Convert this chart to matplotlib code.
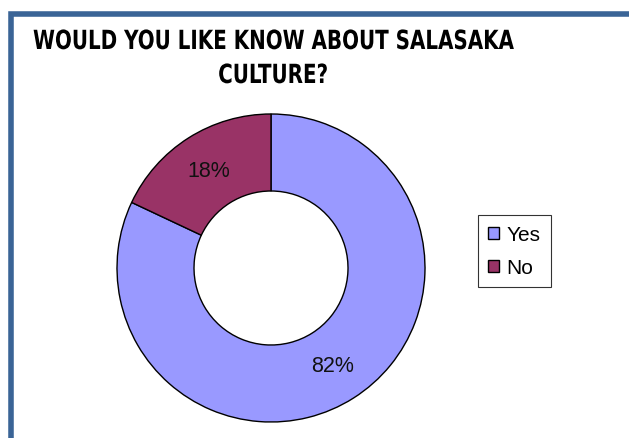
import matplotlib
matplotlib.use("Agg")
import matplotlib.pyplot as plt
from matplotlib.patches import Rectangle
from matplotlib.patheffects import AbstractPathEffect
from matplotlib.transforms import Affine2D

labels = ["Yes", "No"]
values = [82, 18]
colors = ["#9999FF", "#993366"]
title_lines = ["WOULD YOU LIKE KNOW ABOUT SALASAKA", "CULTURE?"]

W, H = 629, 439
DPI = 100


class SqueezeX(AbstractPathEffect):
    """Narrow the glyphs horizontally about a fixed display x position."""

    def __init__(self, sx, x0):
        super().__init__()
        self.sx = sx
        self.x0 = x0

    def draw_path(self, renderer, gc, tpath, affine, rgbFace=None):
        squeeze = Affine2D().translate(-self.x0, 0).scale(self.sx, 1).translate(self.x0, 0)
        renderer.draw_path(gc, tpath, affine + squeeze, rgbFace)


fig = plt.figure(figsize=(W / DPI, H / DPI), dpi=DPI)
fig.patch.set_facecolor("white")

# blue frame around the chart area (runs off the right and bottom edges)
frame = Rectangle((10.5 / W, -0.1), 1.2, (H - 14.5) / H + 0.1,
                  transform=fig.transFigure, fill=False,
                  edgecolor="#3A6496", linewidth=4.0)
fig.add_artist(frame)

# doughnut
cx, cy, r = 271, H - 269, 154
ax = fig.add_axes([(cx - r) / W, (cy - r) / H, 2 * r / W, 2 * r / H])
wedges, _, autotexts = ax.pie(
    values, colors=colors, startangle=90, counterclock=False,
    autopct=lambda p: f"{p:.0f}%", pctdistance=0.75,
    wedgeprops=dict(width=0.5, edgecolor="black", linewidth=1.0),
    textprops=dict(fontsize=15.5, family="Liberation Sans", color="#111111"),
)
ax.set_xlim(-1, 1)
ax.set_ylim(-1, 1)
ax.set_aspect("equal")
ax.axis("off")

# title in a narrow bold face, two centred lines
title_cx, title_w = 273, 480
title_font = dict(fontsize=19, fontweight="bold", family="DejaVu Sans",
                  fontstretch="condensed", ha="left", va="baseline",
                  color="black")
t1 = fig.text(0, 1 - 50 / H, title_lines[0], **title_font)
t2 = fig.text(0, 1 - 84 / H, title_lines[1], **title_font)
fig.canvas.draw()
w1 = t1.get_window_extent().width
w2 = t2.get_window_extent().width
sx = title_w / w1
for t, w in ((t1, w1), (t2, w2)):
    left = title_cx - sx * w / 2
    t.set_x(left / W)
    t.set_path_effects([SqueezeX(sx, left)])

leg = fig.legend(wedges, labels, loc="upper left",
                 bbox_to_anchor=(478 / W, 1 - 216 / H),
                 frameon=True, fancybox=False, edgecolor="black",
                 prop=dict(family="Liberation Sans", size=15),
                 handlelength=0.5, handleheight=0.5, handletextpad=0.35,
                 labelspacing=0.65, borderpad=0.5, borderaxespad=0)
leg.get_frame().set_linewidth(0.8)

fig.savefig("out.png", dpi=DPI)
